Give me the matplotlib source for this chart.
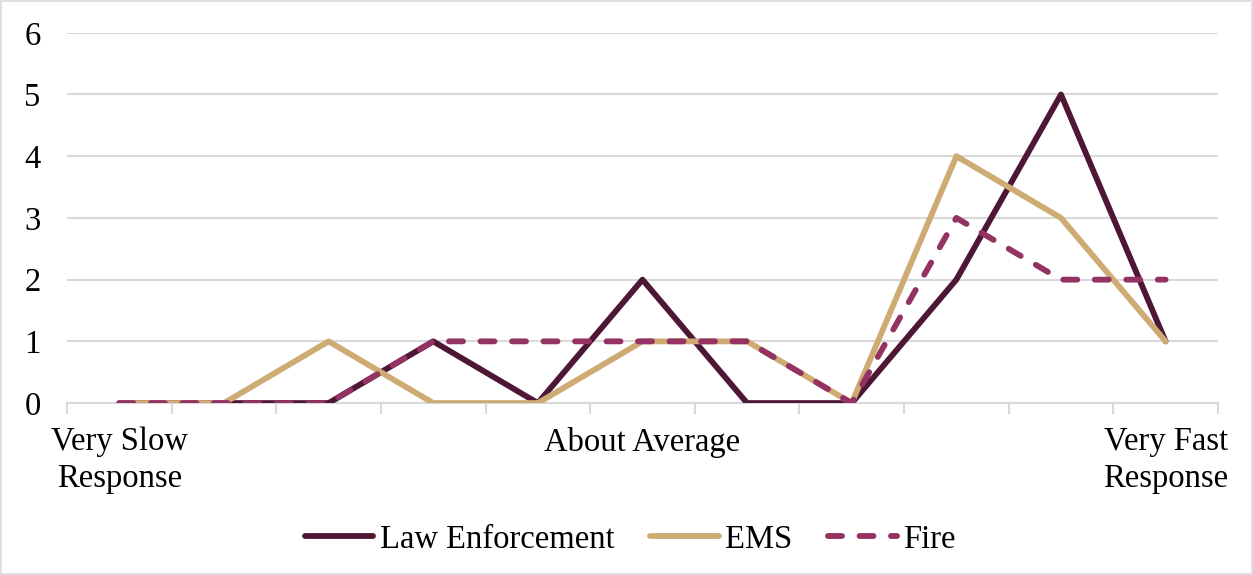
import matplotlib.pyplot as plt
import numpy as np

plt.rcParams['font.family'] = ['Liberation Serif', 'DejaVu Serif']

# response speed scale, 11 points
points = list(range(11))
law = [0, 0, 0, 1, 0, 2, 0, 0, 2, 5, 1]
ems = [0, 0, 1, 0, 0, 1, 1, 0, 4, 3, 1]
fire = [0, 0, 0, 1, 1, 1, 1, 0, 3, 2, 2]
label_pos = [0, 5, 10]
label_txt = ['Very Slow\nResponse', 'About Average', 'Very Fast\nResponse']

fig = plt.figure(figsize=(12.53, 5.75), dpi=100)
fig.patches.append(plt.Rectangle((0.001, 0.001), 0.998, 0.997, transform=fig.transFigure,
                                 fill=False, edgecolor='#d9d9d9', lw=1.2))
ax = fig.add_axes([0.0535, 0.299, 0.9185, 0.644])

ax.plot(points, law, color='#4e1735', lw=4.2, label='Law Enforcement', solid_capstyle='round', zorder=3)
ax.plot(points, ems, color='#cfab74', lw=4.2, label='EMS', solid_capstyle='round', zorder=3)
ax.plot(points, fire, color='#933263', lw=4.2, ls=(0, (2.4, 3.0)), label='Fire', dash_capstyle='round', zorder=4)

ax.set_xlim(-0.5, 10.5)
ax.set_ylim(0, 6)
ax.set_yticks(range(7))
ax.yaxis.grid(True, color='#d9d9d9', lw=1.5)
ax.set_axisbelow(True)
ax.tick_params(axis='y', length=0, labelsize=23.5, pad=19)

ax.set_xticks(np.arange(-0.5, 11, 1))
ax.set_xticklabels([])
ax.tick_params(axis='x', which='major', length=8, color='#d9d9d9', width=1.5)
ax.set_xticks(label_pos, minor=True)
ax.set_xticklabels(label_txt, minor=True, fontsize=23.5, linespacing=1.25)
ax.tick_params(axis='x', which='minor', length=0, pad=17)

for s in ['top', 'right', 'left']:
    ax.spines[s].set_visible(False)
ax.spines['bottom'].set_color('#d9d9d9')
ax.spines['bottom'].set_linewidth(1.5)

fig.legend(loc='center', bbox_to_anchor=(0.503, 0.062), ncol=3, frameon=False, fontsize=23.5,
           handlelength=2.1, handletextpad=0.2, columnspacing=1.1)

fig.savefig('out.png', dpi=100)
